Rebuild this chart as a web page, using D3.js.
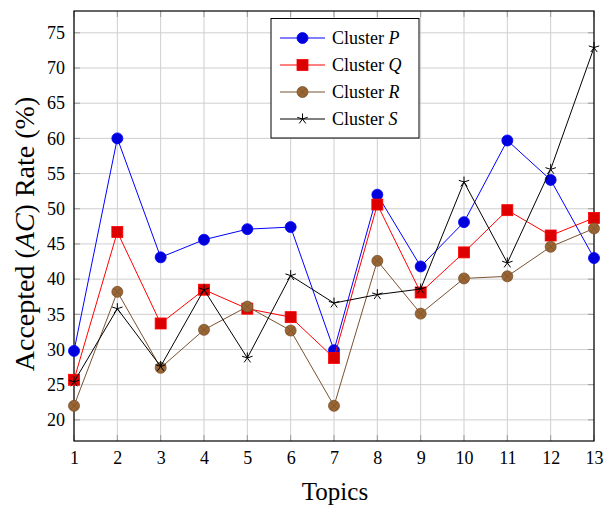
<!DOCTYPE html>
<html>
<head>
<meta charset="utf-8">
<script src="https://cdn.jsdelivr.net/npm/d3@7"></script>
<style>
  body { margin: 0; background: #fff; }
  text { font-family: "Liberation Serif", "DejaVu Serif", serif; fill: #000; }
</style>
</head>
<body>
<svg></svg>
<script>
const width = 614;
const height = 505;

// data
const topics = [1, 2, 3, 4, 5, 6, 7, 8, 9, 10, 11, 12, 13];
const clusterP = [29.8, 60.0, 43.1, 45.6, 47.1, 47.4, 29.9, 52.0, 41.8, 48.1, 59.7, 54.1, 43.0];
const clusterQ = [25.7, 46.7, 33.7, 38.5, 35.8, 34.6, 28.8, 50.6, 38.1, 43.8, 49.8, 46.2, 48.7];
const clusterR = [22.0, 38.2, 27.4, 32.8, 36.1, 32.7, 22.0, 42.6, 35.1, 40.1, 40.4, 44.6, 47.2];
const clusterS = [25.4, 35.8, 27.6, 38.5, 28.8, 40.5, 36.6, 37.8, 38.6, 53.8, 42.3, 55.6, 72.9];
const yTicks = [20, 25, 30, 35, 40, 45, 50, 55, 60, 65, 70, 75];

const series = [
  { name: "P", values: clusterP, line: "#0000ff", fill: "#0000dd", mark: "circle" },
  { name: "Q", values: clusterQ, line: "#ff0000", fill: "#dd0000", mark: "square" },
  { name: "R", values: clusterR, line: "#7a5230", fill: "#996633", mark: "otimes" },
  { name: "S", values: clusterS, line: "#000000", fill: "#000000", mark: "star" }
];

const margin = { top: 11, right: 20, bottom: 64, left: 74 };
const x0 = margin.left, x1 = width - margin.right;
const y0 = margin.top, y1 = height - margin.bottom;

const svg = d3.select('svg')
  .attr('width', width)
  .attr('height', height);

const x = d3.scaleLinear().domain([1, 13]).range([x0, x1]);
const y = d3.scaleLinear().domain([17.0, 78.1]).range([y1, y0]);

// grid
const grid = svg.append("g").attr("stroke", "#cfcfcf").attr("stroke-width", 1);
grid.selectAll(".gx").data(topics).enter().append("line")
  .attr("x1", d => x(d)).attr("x2", d => x(d))
  .attr("y1", y0).attr("y2", y1);
grid.selectAll(".gy").data(yTicks).enter().append("line")
  .attr("x1", x0).attr("x2", x1)
  .attr("y1", d => y(d)).attr("y2", d => y(d));

// inward ticks on all four sides
const tl = 6;
const ticks = svg.append("g").attr("stroke", "#999").attr("stroke-width", 1);
topics.forEach(d => {
  ticks.append("line").attr("x1", x(d)).attr("x2", x(d)).attr("y1", y1).attr("y2", y1 - tl);
  ticks.append("line").attr("x1", x(d)).attr("x2", x(d)).attr("y1", y0).attr("y2", y0 + tl);
});
yTicks.forEach(d => {
  ticks.append("line").attr("x1", x0).attr("x2", x0 + tl).attr("y1", y(d)).attr("y2", y(d));
  ticks.append("line").attr("x1", x1).attr("x2", x1 - tl).attr("y1", y(d)).attr("y2", y(d));
});

// tick labels via d3 axes, no domain lines
const xAxis = svg.append("g")
  .attr("transform", `translate(0,${y1})`)
  .call(d3.axisBottom(x).tickValues(topics).tickFormat(d3.format("d")).tickSize(0).tickPadding(10));
const yAxis = svg.append("g")
  .attr("transform", `translate(${x0},0)`)
  .call(d3.axisLeft(y).tickValues(yTicks).tickSize(0).tickPadding(9));
[xAxis, yAxis].forEach(a => {
  a.select(".domain").remove();
  a.selectAll("text").style("font-family", '"Liberation Serif", serif').style("font-size", "18px").attr("fill", "#000");
});

// frame
svg.append("rect")
  .attr("x", x0).attr("y", y0)
  .attr("width", x1 - x0).attr("height", y1 - y0)
  .attr("fill", "none").attr("stroke", "#000").attr("stroke-width", 1.2);

const line = d3.line().x((d, i) => x(topics[i])).y(d => y(d));

function drawMark(g, s, cx, cy) {
  if (s.mark === "circle") {
    g.append("circle").attr("cx", cx).attr("cy", cy).attr("r", 5.5)
      .attr("fill", s.fill).attr("stroke", s.line).attr("stroke-width", 0.8);
  } else if (s.mark === "square") {
    g.append("rect").attr("x", cx - 5.5).attr("y", cy - 5.5).attr("width", 11).attr("height", 11)
      .attr("fill", s.fill).attr("stroke", s.line).attr("stroke-width", 0.8);
  } else if (s.mark === "otimes") {
    const r = 5.5, k = r * Math.SQRT1_2;
    g.append("circle").attr("cx", cx).attr("cy", cy).attr("r", r)
      .attr("fill", s.fill).attr("stroke", s.line).attr("stroke-width", 0.8);
    g.append("path")
      .attr("d", `M${cx - k},${cy - k}L${cx + k},${cy + k}M${cx - k},${cy + k}L${cx + k},${cy - k}`)
      .attr("stroke", s.line).attr("stroke-width", 0.8);
  } else {
    const r = 5.5;
    let d = "";
    for (let j = 0; j < 5; j++) {
      const a = -Math.PI / 2 + j * 2 * Math.PI / 5;
      d += `M${cx},${cy}L${cx + r * Math.cos(a)},${cy + r * Math.sin(a)}`;
    }
    g.append("path").attr("d", d).attr("stroke", "#000").attr("stroke-width", 1).attr("fill", "none");
  }
}

series.forEach(s => {
  const g = svg.append("g");
  g.append("path")
    .datum(s.values)
    .attr("d", line)
    .attr("fill", "none")
    .attr("stroke", s.line)
    .attr("stroke-width", 1);
  s.values.forEach((v, i) => drawMark(g, s, x(topics[i]), y(v)));
});

// legend
const lg = svg.append("g");
lg.append("rect")
  .attr("x", 271).attr("y", 18.5).attr("width", 148).attr("height", 119.5)
  .attr("fill", "#fff").attr("stroke", "#000").attr("stroke-width", 1);
series.forEach((s, i) => {
  const ly = 38 + i * 27;
  lg.append("line").attr("x1", 280).attr("x2", 325).attr("y1", ly).attr("y2", ly)
    .attr("stroke", s.line).attr("stroke-width", 1);
  drawMark(lg, s, 302.5, ly);
  const t = lg.append("text").attr("x", 332).attr("y", ly + 6).style("font-size", "18px");
  t.append("tspan").text("Cluster ");
  t.append("tspan").style("font-style", "italic").text(s.name);
});

// axis titles
svg.append("text")
  .attr("x", 335).attr("y", 500)
  .attr("text-anchor", "middle")
  .style("font-size", "25px")
  .text("Topics");

const yt = svg.append("text")
  .attr("transform", `translate(34,234) rotate(-90)`)
  .attr("text-anchor", "middle")
  .style("font-size", "28px");
yt.append("tspan").text("Accepted (");
yt.append("tspan").style("font-style", "italic").text("AC");
yt.append("tspan").text(") Rate (%)");
</script>
</body>
</html>
